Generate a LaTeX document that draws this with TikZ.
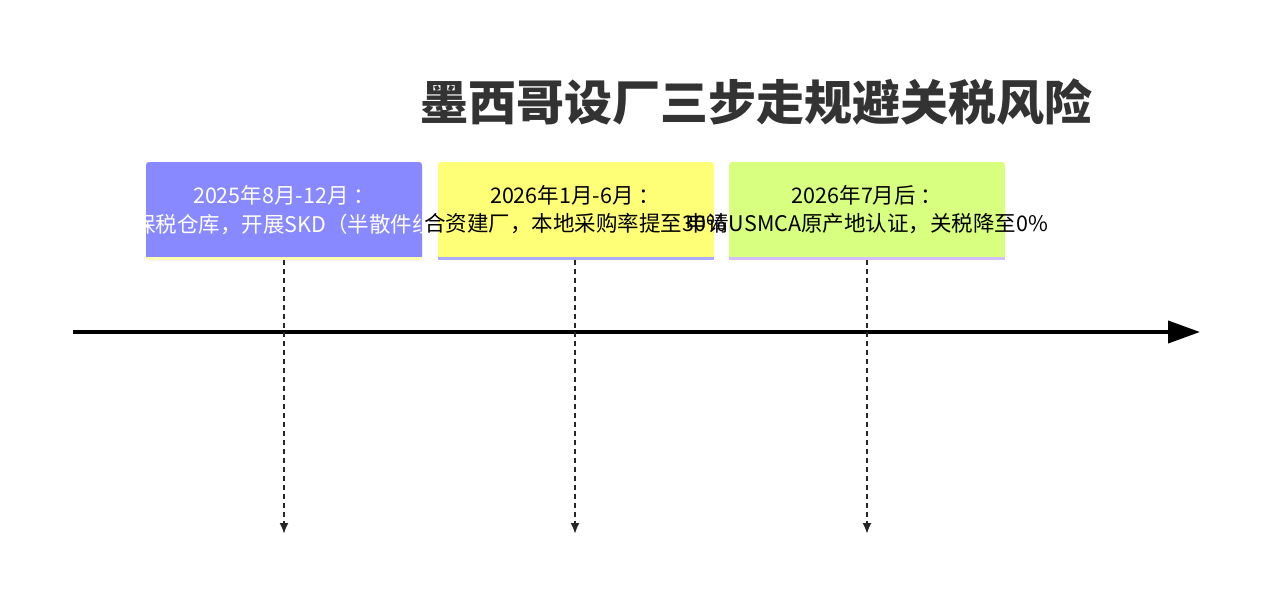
\documentclass[tikz,border=0pt]{standalone}
\usepackage{fontspec}
\setmainfont{Noto Sans CJK SC}
\usetikzlibrary{arrows.meta}
\begin{document}
\begin{tikzpicture}[x=1pt,y=-1pt,
  card/.style={rounded corners=3pt},
  lbl/.style={font=\fontsize{21.5}{24}\selectfont, inner sep=0pt, anchor=center},
  drop/.style={line width=2pt, dash pattern=on 5pt off 4pt, -{Latex[length=11pt,width=9pt]}, color=black!85}]
\useasboundingbox (0,0) rectangle (1269,605);
\node[font=\fontsize{48}{54}\selectfont\bfseries, text=black!80] (title) at (756,102) {墨西哥设厂三步走规避关税风险};
\draw[line width=4pt, -{Triangle[length=32pt,width=22pt]}] (73,332) -- (1200,332) coordinate (axend);
% box 1
\fill[card, fill={rgb,255:red,136;green,136;blue,255}] (146,162) rectangle (422,260);
\fill[fill={rgb,255:red,255;green,255;blue,180}] (146,257) rectangle (422,260);
\node[lbl, text=white] (t1) at (284,195) {2025年8月-12月 ：};
\node[lbl, text=white] (d1) at (284,224) {租赁保税仓库，开展SKD（半散件组装）};
% box 2
\fill[card, fill={rgb,255:red,255;green,255;blue,119}] (438,162) rectangle (714,260);
\fill[fill={rgb,255:red,170;green,170;blue,255}] (438,257) rectangle (714,260);
\node[lbl] (t2) at (575,195) {2026年1月-6月 ：};
\node[lbl] (d2) at (575,224) {合资建厂，本地采购率提至30\%};
% box 3
\fill[card, fill={rgb,255:red,216;green,255;blue,128}] (729,162) rectangle (1005,260);
\fill[fill={rgb,255:red,210;green,190;blue,255}] (729,257) rectangle (1005,260);
\node[lbl] (t3) at (867,195) {2026年7月后 ：};
\node[lbl] (d3) at (867,224) {申请USMCA原产地认证，关税降至0\%};
% drops
\coordinate (s1) at (284,260); \coordinate (e1) at (284,534);
\coordinate (s2) at (575,260); \coordinate (e2) at (575,534);
\coordinate (s3) at (867,260); \coordinate (e3) at (867,534);
\draw[drop] (s1) -- (e1);
\draw[drop] (s2) -- (e2);
\draw[drop] (s3) -- (e3);
\end{tikzpicture}
\end{document}
